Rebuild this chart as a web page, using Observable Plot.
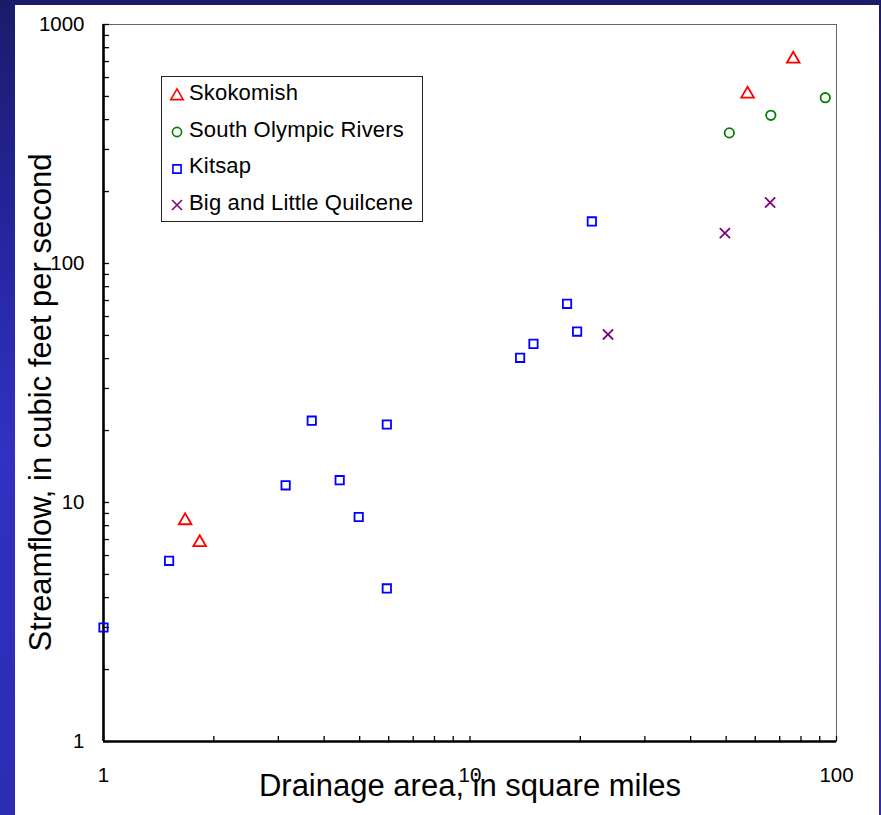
<!DOCTYPE html>
<html>
<head>
<meta charset="utf-8">
<script src="https://cdn.jsdelivr.net/npm/d3@7"></script>
<script src="https://cdn.jsdelivr.net/npm/@observablehq/plot@0.6"></script>
<style>
  html, body { margin: 0; padding: 0; }
  body {
    width: 881px; height: 815px; overflow: hidden;
    background: linear-gradient(180deg, #1b1b6b 0%, #2626a0 30%, #3131c2 55%, #2c2cb4 100%);
  }
  #stage { position: relative; width: 881px; height: 815px; }
  #panel { position: absolute; left: 15px; top: 5px; width: 864px; height: 810px; background: #fff; }
  #stage > svg { position: absolute; left: 0; top: 0; }
  .lg-swatches {
    position: absolute; left: 161px; top: 76px; width: 262px; height: 146px;
    box-sizing: border-box; border: 1px solid #222; background: #fff;
    padding: 0.8px 0 0 7px; margin: 0 !important;
    columns: auto !important; column-count: auto !important;
    font-family: "Liberation Sans", Arial, sans-serif !important; font-size: 22px !important; color: #000;
    letter-spacing: 0.17px;
  }
  .lg-swatch { height: 36.4px; padding-bottom: 0 !important; }
  .lg-swatch > svg { margin-right: 4px !important; }
  .lg-swatch-label { position: relative; top: -2.5px; overflow: visible !important; }
</style>
</head>
<body>
<div id="stage"><div id="panel"></div></div>
<script>
// Series, their colours and symbols
const seriesNames = ["Skokomish", "South Olympic Rivers", "Kitsap", "Big and Little Quilcene"];
const seriesColors = ["#ff0000", "#008000", "#0000ff", "#800080"];
const seriesSymbols = ["triangle", "circle", "square", "times"];

// Drainage area (square miles) and streamflow (cubic feet per second) per basin
const skokomishArea = [1.67, 1.83, 57.2, 76.2];
const skokomishFlow = [8.4, 6.8, 512, 717];
const southOlympicArea = [51.0, 66.2, 93.2];
const southOlympicFlow = [352, 417, 494];
const kitsapArea = [1.0, 1.51, 3.14, 3.70, 4.41, 4.97, 5.93, 5.93, 13.7, 14.9, 18.4, 19.6, 21.5];
const kitsapFlow = [3.0, 5.7, 11.8, 22.0, 12.4, 8.7, 21.2, 4.37, 40.3, 46.1, 67.8, 51.9, 150];
const quilceneArea = [23.8, 49.6, 65.9];
const quilceneFlow = [50.5, 134, 180];

// Axis labels and tick values
const xLabelTicks = [1, 10, 100];
const yLabelTicks = [1, 10, 100, 1000];
const xTitle = "Drainage area, in square miles";
const yTitle = "Streamflow, in cubic feet per second";

const areas = [skokomishArea, southOlympicArea, kitsapArea, quilceneArea];
const flows = [skokomishFlow, southOlympicFlow, kitsapFlow, quilceneFlow];
const points = seriesNames.flatMap((series, s) =>
  areas[s].map((area, i) => ({series, area, flow: flows[s][i]}))
);

// Minor log ticks (1..9 in each decade)
const decadeTicks = (lo, hi) => {
  const out = [];
  for (let d = lo; d < hi; d *= 10) for (let k = 1; k < 10; k++) out.push(d * k);
  out.push(hi);
  return out;
};
const xTicks = decadeTicks(1, 100);
const yTicks = decadeTicks(1, 1000);

const width = 881, height = 815;
const margin = {top: 24, right: 45, bottom: 74, left: 103};
const innerW = width - margin.left - margin.right;
const innerH = height - margin.top - margin.bottom;

const chart = Plot.plot({
  width, height,
  marginTop: margin.top, marginRight: margin.right,
  marginBottom: margin.bottom, marginLeft: margin.left,
  style: {
    background: "transparent",
    color: "#000",
    fontFamily: "'Liberation Sans', Arial, sans-serif",
    fontSize: "20px",
    overflow: "visible"
  },
  x: {type: "log", domain: [1, 100], axis: null},
  y: {type: "log", domain: [1, 1000], axis: null},
  color: {domain: seriesNames, range: seriesColors},
  symbol: {domain: seriesNames, range: seriesSymbols},
  marks: [
    Plot.frame({stroke: "#666", strokeWidth: 1}),
    Plot.tickX(xTicks, {x: d => d, insetTop: innerH - 5, stroke: "#000", strokeWidth: 1.3}),
    Plot.tickY(yTicks, {y: d => d, insetRight: innerW - 6, stroke: "#000", strokeWidth: 1.3}),
    Plot.ruleX([1], {stroke: "#000", strokeWidth: 2.6}),
    Plot.ruleY([1], {stroke: "#000", strokeWidth: 2.6}),
    Plot.axisX({ticks: xLabelTicks, tickSize: 0, tickPadding: 26, fontSize: 20.5, tickFormat: d => String(d), label: null}),
    Plot.axisY({ticks: yLabelTicks, tickSize: 0, tickPadding: 19, fontSize: 20.5, tickFormat: d => String(d), label: null}),
    Plot.text([xTitle], {text: d => d, frameAnchor: "bottom", textAnchor: "middle", dy: 54, lineAnchor: "bottom", fontSize: 31, fill: "#000"}),
    Plot.text([yTitle], {text: d => d, frameAnchor: "left", textAnchor: "middle", dx: -53, dy: 19.5, rotate: -90, lineAnchor: "bottom", fontSize: 31, fill: "#000"}),
    Plot.dot(points, {x: "area", y: "flow", stroke: "series", symbol: "series", r: 4.7, strokeWidth: 1.8})
  ]
});

const stage = document.getElementById("stage");
stage.appendChild(chart);
const legend = chart.legend("symbol", {className: "lg", columns: 1, r: 4.6, strokeWidth: 1.6, swatchSize: 16});
stage.appendChild(legend);
</script>
</body>
</html>
